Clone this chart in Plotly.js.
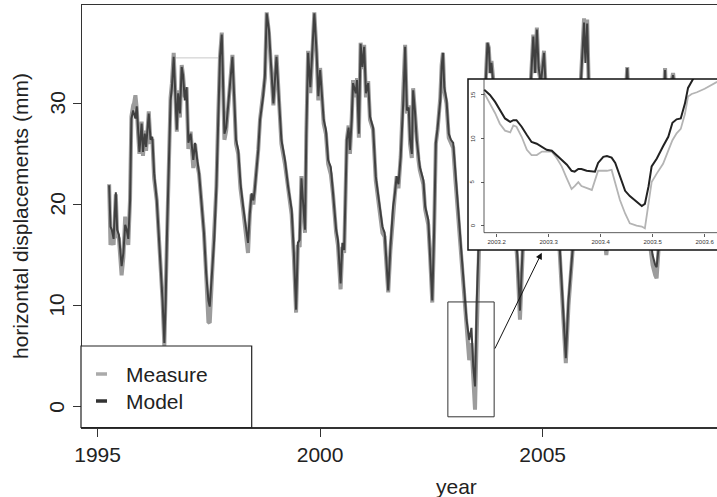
<!DOCTYPE html>
<html>
<head>
<meta charset="utf-8">
<script src="https://cdn.plot.ly/plotly-3.0.1.min.js"></script>
<style>html,body{margin:0;padding:0;background:#fff;overflow:hidden;}#chart{width:717px;height:497px;}</style>
</head>
<body>
<div id="chart"></div>
<script>
// ---- data ----
const seriesNames = ['Measure', 'Model'];

const years = [
  1995.26, 1995.29, 1995.32, 1995.36, 1995.41, 1995.44, 1995.48, 1995.54, 1995.58, 1995.62, 1995.65, 1995.69, 1995.73, 1995.76, 1995.80, 1995.82, 1995.85, 1995.88, 1995.91, 1995.94, 1995.99,
  1996.02, 1996.06, 1996.09, 1996.15, 1996.19, 1996.23, 1996.27, 1996.33, 1996.40, 1996.46, 1996.50, 1996.53, 1996.56, 1996.61, 1996.64, 1996.67, 1996.71, 1996.74, 1996.78, 1996.81, 1996.85, 1996.89, 1996.92, 1996.96,
  1997.00, 1997.04, 1997.09, 1997.15, 1997.19, 1997.23, 1997.28, 1997.33, 1997.39, 1997.44, 1997.49, 1997.52, 1997.58, 1997.62, 1997.67, 1997.71, 1997.75, 1997.79, 1997.82, 1997.85, 1997.89, 1997.94, 1997.98,
  1998.03, 1998.06, 1998.11, 1998.16, 1998.21, 1998.27, 1998.34, 1998.38, 1998.42, 1998.46, 1998.50, 1998.53, 1998.61, 1998.65, 1998.72, 1998.76, 1998.80, 1998.85, 1998.89, 1998.95,
  1999.02, 1999.06, 1999.09, 1999.13, 1999.21, 1999.28, 1999.36, 1999.41, 1999.46, 1999.50, 1999.54, 1999.58, 1999.62, 1999.66, 1999.69, 1999.73, 1999.78, 1999.82, 1999.87, 1999.92, 1999.96,
  2000.00, 2000.04, 2000.08, 2000.13, 2000.18, 2000.24, 2000.29, 2000.36, 2000.40, 2000.46, 2000.50, 2000.54, 2000.60, 2000.64, 2000.67, 2000.71, 2000.74, 2000.80, 2000.83, 2000.87, 2000.91, 2000.95, 2000.99,
  2001.03, 2001.08, 2001.12, 2001.19, 2001.25, 2001.30, 2001.34, 2001.40, 2001.45, 2001.49, 2001.53, 2001.58, 2001.64, 2001.68, 2001.72, 2001.76, 2001.81, 2001.87, 2001.91, 2001.95, 2001.99,
  2002.02, 2002.06, 2002.09, 2002.13, 2002.17, 2002.21, 2002.24, 2002.32, 2002.36, 2002.43, 2002.47, 2002.52, 2002.56, 2002.60, 2002.64, 2002.70, 2002.73, 2002.76, 2002.79, 2002.84, 2002.89, 2002.94, 2002.99,
  2003.04, 2003.08, 2003.12, 2003.17, 2003.22, 2003.29, 2003.35, 2003.40, 2003.44, 2003.48, 2003.52, 2003.56, 2003.60, 2003.65, 2003.72, 2003.76, 2003.79, 2003.82, 2003.85, 2003.88, 2003.93,
  2004.00, 2004.10, 2004.20, 2004.30, 2004.38, 2004.43, 2004.49, 2004.55, 2004.60, 2004.66, 2004.72, 2004.79, 2004.83, 2004.87, 2004.91, 2004.96,
  2005.03, 2005.07, 2005.14, 2005.22, 2005.30, 2005.38, 2005.45, 2005.52, 2005.58, 2005.65, 2005.70, 2005.76, 2005.83, 2005.88, 2005.93, 2005.96,
  2006.00, 2006.04, 2006.12, 2006.20, 2006.28, 2006.36, 2006.43, 2006.50, 2006.60, 2006.70, 2006.80, 2006.87, 2006.90, 2006.93,
  2007.00, 2007.10, 2007.20, 2007.30, 2007.40, 2007.47, 2007.53, 2007.56, 2007.60, 2007.65, 2007.70, 2007.75, 2007.78, 2007.85, 2007.93, 2007.97, 2008.05, 2008.15, 2008.25, 2008.35, 2008.45, 2008.55, 2008.65, 2008.75, 2008.85, 2008.95
];

const model = [
  21.9, 17.8, 17.5, 16.6, 21.2, 17.5, 17.0, 13.9, 15.2, 18.0, 17.6, 16.6, 20.4, 28.5, 29.3, 29.0, 28.5, 29.7, 27.0, 25.2, 28.0,
  25.2, 27.0, 25.7, 29.0, 26.4, 26.7, 23.1, 20.4, 15.5, 10.5, 6.3, 10.5, 17.2, 25.4, 30.3, 31.6, 34.6, 31.6, 27.4, 31.0, 29.0, 33.6, 32.8, 30.3,
  31.6, 26.1, 27.0, 24.4, 26.1, 24.7, 23.1, 20.4, 17.2, 13.2, 10.5, 9.9, 13.5, 16.5, 21.8, 28.7, 34.6, 36.8, 32.0, 27.0, 27.6, 30.3, 32.6,
  34.6, 31.6, 26.4, 25.4, 22.1, 19.8, 17.5, 16.2, 19.1, 21.1, 20.4, 21.4, 25.4, 28.4, 30.7, 32.8, 38.9, 37.3, 34.3, 30.0,
  34.6, 31.0, 29.3, 26.4, 24.4, 21.8, 19.5, 15.2, 9.6, 16.2, 16.5, 22.6, 20.1, 17.5, 27.0, 35.0, 31.6, 35.1, 38.9, 35.1, 30.7,
  33.3, 30.7, 28.4, 27.4, 24.4, 23.7, 21.4, 17.5, 16.5, 12.2, 16.2, 15.5, 26.4, 27.6, 25.4, 28.4, 32.0, 31.0, 32.3, 27.0, 35.9, 33.6, 35.6,
  31.0, 32.0, 28.7, 27.6, 22.8, 21.1, 19.8, 17.8, 17.2, 13.9, 11.5, 15.8, 19.8, 21.1, 22.8, 22.0, 24.7, 30.3, 35.6, 29.3, 29.6,
  26.4, 25.0, 31.3, 29.3, 26.4, 24.7, 23.7, 22.4, 19.8, 18.5, 15.2, 10.5, 17.2, 26.1, 27.6, 30.3, 33.6, 35.0, 31.6, 30.3, 27.0, 26.4, 26.1,
  22.8, 20.4, 18.5, 15.5, 12.2, 8.6, 6.6, 7.8, 4.0, 2.0, 10.5, 16.0, 24.0, 29.0, 32.0, 36.0, 35.5, 33.0, 34.0, 32.5, 31.0,
  29.0, 26.5, 24.0, 21.0, 18.0, 15.0, 9.5, 15.5, 22.0, 27.0, 31.0, 36.6, 33.0, 37.3, 33.5, 32.0,
  35.0, 31.5, 27.0, 24.0, 20.5, 16.0, 10.0, 4.8, 10.5, 14.5, 17.0, 24.0, 30.0, 34.0, 38.0, 34.0,
  37.9, 31.0, 29.0, 26.0, 22.0, 18.0, 15.4, 18.5, 23.0, 27.0, 30.0, 31.0, 33.5, 30.5,
  29.5, 27.0, 24.0, 20.5, 17.0, 15.0, 14.0, 13.8, 15.5, 22.0, 28.0, 33.3, 30.0, 31.0, 32.8, 31.5, 30.0, 27.0, 24.0, 21.0, 18.5, 20.0, 24.0, 28.0, 30.5, 31.0
];

const measure = [
  22.0, 16.0, 16.5, 16.0, 21.0, 17.0, 16.6, 13.0, 14.8, 18.8, 17.0, 16.0, 20.6, 28.7, 29.8, 30.0, 30.8, 29.5, 27.0, 25.0, 28.2,
  24.8, 27.3, 25.3, 29.2, 26.0, 26.5, 22.6, 20.4, 15.5, 10.5, 6.0, 10.5, 17.2, 25.4, 30.6, 32.0, 35.0, 32.0, 27.2, 31.3, 28.6, 33.8, 32.8, 30.6,
  31.6, 25.5, 27.2, 23.6, 26.0, 24.2, 23.0, 20.4, 17.2, 13.0, 8.4, 8.3, 13.2, 16.5, 21.8, 28.7, 34.6, 37.0, 32.0, 26.4, 27.3, 30.0, 32.8,
  34.8, 31.4, 26.0, 25.0, 21.6, 19.5, 17.0, 15.2, 19.0, 21.0, 20.0, 21.3, 25.4, 28.4, 31.0, 32.5, 39.0, 37.0, 34.0, 29.8,
  34.8, 30.8, 29.0, 26.0, 24.0, 21.4, 19.0, 14.8, 9.3, 16.0, 15.8, 22.8, 19.8, 17.2, 27.0, 35.2, 31.0, 35.5, 39.0, 35.0, 30.3,
  33.5, 30.5, 28.0, 27.0, 24.0, 23.0, 21.0, 17.2, 16.0, 11.6, 15.8, 15.2, 26.4, 27.8, 25.0, 28.6, 32.3, 30.6, 32.5, 26.6, 36.0, 33.4, 35.8,
  30.6, 32.2, 28.4, 27.4, 22.4, 20.8, 19.4, 17.2, 16.8, 13.5, 11.3, 15.5, 19.6, 21.0, 22.8, 21.6, 24.7, 30.5, 35.8, 29.0, 29.8,
  26.0, 24.6, 31.5, 29.0, 26.0, 24.4, 23.4, 22.0, 19.5, 18.0, 15.0, 10.3, 17.0, 26.0, 27.4, 30.6, 33.8, 35.0, 31.2, 30.0, 26.6, 26.0, 25.6,
  22.4, 20.0, 18.0, 15.0, 11.5, 8.0, 4.6, 6.3, 2.9, -0.3, 7.5, 13.5, 22.0, 28.5, 32.2, 36.0, 35.5, 33.0, 34.2, 32.5, 30.5,
  28.5, 26.0, 23.5, 20.5, 17.5, 14.5, 8.6, 15.0, 22.0, 27.0, 31.0, 36.8, 33.0, 37.5, 33.3, 32.0,
  35.2, 31.2, 26.5, 23.5, 20.0, 15.5, 9.5, 4.3, 10.0, 14.0, 17.0, 24.0, 30.3, 34.5, 38.4, 35.0,
  38.3, 30.8, 28.6, 25.6, 21.6, 17.5, 15.0, 18.0, 22.8, 27.0, 30.0, 31.0, 33.6, 30.3,
  29.2, 26.6, 23.6, 20.0, 16.5, 14.0, 13.0, 12.7, 15.3, 22.0, 28.0, 33.5, 30.0, 31.0, 33.0, 31.3, 29.6, 26.6, 23.6, 20.6, 18.0, 19.8, 24.0, 28.0, 30.5, 31.0
];

// thin connector segment visible near the 1997 peaks
const gapYears = [1996.74, 1997.71];
const gapValues = [34.5, 34.5];

// inset (detail of the 2003 trough)
const insetYears = [
  2003.176, 2003.187, 2003.197, 2003.206, 2003.216, 2003.226, 2003.232, 2003.238, 2003.248, 2003.258,
  2003.267, 2003.277, 2003.287, 2003.296, 2003.306, 2003.315, 2003.325, 2003.335, 2003.344, 2003.350,
  2003.357, 2003.363, 2003.373, 2003.383, 2003.389, 2003.395, 2003.405, 2003.412, 2003.421, 2003.428,
  2003.437, 2003.447, 2003.456, 2003.469, 2003.479, 2003.485, 2003.492, 2003.498, 2003.508, 2003.520,
  2003.530, 2003.538, 2003.546, 2003.554, 2003.562, 2003.568, 2003.575, 2003.585, 2003.600, 2003.624
];
const insetModel = [
  15.6, 15.0, 14.2, 13.3, 12.3, 11.9, 12.1, 12.1, 11.35, 10.4,
  9.6, 9.4, 9.0, 8.7, 8.6, 8.1, 7.5, 7.0, 6.3, 6.2,
  6.5, 6.5, 6.3, 6.2, 6.2, 7.2, 7.9, 8.0, 7.8, 7.2,
  5.7, 4.0, 3.4, 2.75, 2.26, 2.5, 4.5, 6.8, 7.7, 9.1,
  10.2, 11.8, 12.2, 12.3, 14.0, 15.8, 16.6, 17.6, 18.5, 19.5
];
const insetMeasure = [
  15.2, 14.0, 12.9, 11.7, 10.9, 10.7, 11.5, 11.35, 10.2, 8.7,
  8.1, 8.1, 8.5, 8.5, 8.5, 7.8, 6.8, 5.4, 4.2, 4.55,
  5.0, 4.55, 4.3, 4.1, 5.2, 6.3, 6.3, 6.3, 6.4, 4.9,
  2.95, 1.4, 0.27, 0.0, -0.1, -0.3, 2.5, 5.0, 6.0, 7.1,
  8.6, 9.8, 10.6, 11.1, 12.8, 14.8, 15.1, 15.3, 15.7, 16.5
];

const xTickVals = [1995, 2000, 2005];
const yTickVals = [0, 10, 20, 30];
const insetXTicks = [2003.2, 2003.3, 2003.4, 2003.5, 2003.6];
const insetYTicks = [0, 5, 10, 15];

// ---- traces ----
const FONT = 'Liberation Sans, Arial, Helvetica, sans-serif';
const traces = [
  {x: gapYears, y: gapValues, mode: 'lines', line: {color: '#c8c8c8', width: 1}, hoverinfo: 'skip', showlegend: false},
  {x: years, y: measure, name: seriesNames[0], mode: 'lines', line: {color: '#9c9c9c', width: 4}},
  {x: years, y: model, name: seriesNames[1], mode: 'lines', line: {color: '#404040', width: 2}},
  {x: insetYears, y: insetMeasure, name: seriesNames[0], mode: 'lines', xaxis: 'x2', yaxis: 'y2', line: {color: '#b4b4b4', width: 1.8}, showlegend: false},
  {x: insetYears, y: insetModel, name: seriesNames[1], mode: 'lines', xaxis: 'x2', yaxis: 'y2', line: {color: '#222', width: 2}, showlegend: false}
];

// ---- geometry helpers (pixel -> paper) ----
const W = 717, H = 497, ML = 82, MR = 0, MT = 5, MB = 70;
const PW = W - ML - MR, PH = H - MT - MB;
const px = v => (v - ML) / PW;
const py = v => (H - MB - v) / PH;

// rotated (parallel-to-axis) y tick labels, placed on the axis scale
const yTickLabels = yTickVals.map(v => ({
  xref: 'paper', yref: 'y', x: px(57), y: v, xanchor: 'center', yanchor: 'middle', textangle: -90,
  text: String(v), showarrow: false, font: {size: 21, family: FONT, color: '#222'}
}));
const insetYTickLabels = insetYTicks.map(v => ({
  xref: 'paper', yref: 'y2', x: px(472.5), y: v, xanchor: 'center', yanchor: 'middle', textangle: -90,
  text: String(v), showarrow: false, font: {size: 6, family: FONT, color: '#333'}
}));

const layout = {
  width: W, height: H,
  margin: {l: ML, r: MR, t: MT, b: MB, pad: 0},
  paper_bgcolor: '#fff', plot_bgcolor: '#fff',
  showlegend: false,
  font: {family: FONT, size: 21, color: '#222'},
  xaxis: {
    range: [1994.65, 2008.917], tickvals: xTickVals, ticktext: xTickVals.map(String),
    ticks: 'outside', ticklen: 8, tickwidth: 1, tickcolor: '#333',
    showline: true, mirror: true, linecolor: '#333', linewidth: 1.5,
    showgrid: false, zeroline: false, tickfont: {size: 21, family: FONT, color: '#222'}
  },
  yaxis: {
    range: [-2.008, 39.73], tickvals: yTickVals, showticklabels: false,
    ticks: 'outside', ticklen: 8, tickwidth: 1, tickcolor: '#333',
    showline: true, mirror: false, linecolor: '#333', linewidth: 1.5,
    showgrid: false, zeroline: false
  },
  xaxis2: {
    domain: [px(468), 1], range: [2003.1448, 2003.6237], anchor: 'free', position: py(232.7),
    tickvals: insetXTicks, ticktext: insetXTicks.map(v => v.toFixed(1)),
    ticks: 'outside', ticklen: 3, tickwidth: 0.8, tickcolor: '#333',
    showline: false, showgrid: false, zeroline: false,
    tickfont: {size: 6, family: FONT, color: '#333'}
  },
  yaxis2: {
    domain: [py(250), py(79)], range: [-2.787, 16.823], anchor: 'free', position: px(484),
    tickvals: insetYTicks, showticklabels: false,
    ticks: 'outside', ticklen: 3, tickwidth: 0.8, tickcolor: '#333',
    showline: false, showgrid: false, zeroline: false
  },
  shapes: [
    // zoom box on main plot
    {type: 'rect', xref: 'x', yref: 'y', x0: 2002.87, x1: 2003.91, y0: -1.0, y1: 10.36,
     line: {color: '#333', width: 1}, fillcolor: 'rgba(0,0,0,0)', layer: 'above'},
    // inset frame
    {type: 'rect', xref: 'paper', yref: 'paper', x0: px(468), x1: 1.05, y0: py(250), y1: py(79),
     line: {color: '#111', width: 1.5}, fillcolor: 'rgba(0,0,0,0)', layer: 'above'},
    // inset axes lines
    {type: 'line', xref: 'x2', yref: 'y2', x0: 2003.1756, x1: 2003.1756, y0: -0.8, y1: 16.823,
     line: {color: '#333', width: 0.8}, layer: 'above'},
    {type: 'line', xref: 'x2', yref: 'y2', x0: 2003.1756, x1: 2003.6237, y0: -0.8, y1: -0.8,
     line: {color: '#333', width: 0.8}, layer: 'above'},
    // legend box
    {type: 'rect', xref: 'paper', yref: 'paper', x0: px(81), x1: px(251.7), y0: py(427.5), y1: py(346),
     line: {color: '#222', width: 1.2}, fillcolor: '#fff', layer: 'above'},
    {type: 'line', xref: 'paper', yref: 'paper', x0: px(96), x1: px(107), y0: py(374), y1: py(374),
     line: {color: '#aaaaaa', width: 3.5}, layer: 'above'},
    {type: 'line', xref: 'paper', yref: 'paper', x0: px(96), x1: px(107), y0: py(401), y1: py(401),
     line: {color: '#333', width: 3.5}, layer: 'above'}
  ],
  annotations: [
    {xref: 'paper', yref: 'paper', x: px(124), y: py(374), xanchor: 'left', yanchor: 'middle',
     text: seriesNames[0], showarrow: false, font: {size: 21, family: FONT, color: '#222'}},
    {xref: 'paper', yref: 'paper', x: px(124), y: py(401), xanchor: 'left', yanchor: 'middle',
     text: seriesNames[1], showarrow: false, font: {size: 21, family: FONT, color: '#222'}},
    {xref: 'paper', yref: 'paper', x: px(20), y: py(216), xanchor: 'center', yanchor: 'middle', textangle: -90,
     text: 'horizontal displacements (mm)', showarrow: false, font: {size: 21, family: FONT, color: '#222'}},
    {xref: 'paper', yref: 'paper', x: px(456), y: py(486), xanchor: 'center', yanchor: 'middle',
     text: 'year', showarrow: false, font: {size: 21, family: FONT, color: '#222'}},
    {xref: 'x', yref: 'y', x: 2004.98, y: 15.23, axref: 'x', ayref: 'y', ax: 2003.91, ay: 5.6,
     text: '', showarrow: true, arrowhead: 2, arrowsize: 1.3, arrowwidth: 1, arrowcolor: '#111', standoff: 0}
  ].concat(yTickLabels, insetYTickLabels)
};

Plotly.newPlot('chart', traces, layout, {staticPlot: true, displayModeBar: false});
</script>
</body>
</html>
